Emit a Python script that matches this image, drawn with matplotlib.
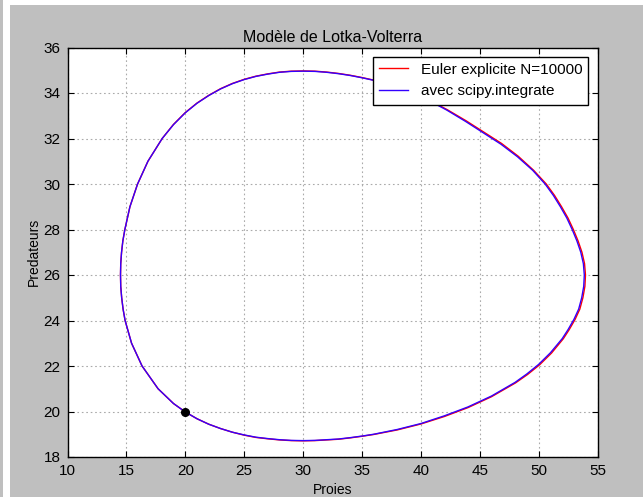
import numpy as np
import matplotlib.pyplot as plt
from matplotlib.patches import Rectangle

plt.rcParams['font.family'] = ['Liberation Sans', 'DejaVu Sans']

# trajectoire (proies, predateurs), depart en (20, 20), sens trigo
proies = [20.0, 21.0, 22.0, 23.0, 24.0, 25.0, 26.0, 27.0, 28.0, 29.0, 30.0, 31.0,
          32.0, 33.0, 34.0, 35.0, 36.0, 38.0, 40.0, 42.0, 44.0, 46.0, 48.0, 49.0,
          50.0, 51.0, 52.0, 52.5, 53.0, 53.4, 53.66, 53.83, 53.88, 53.8, 53.58, 53.25,
          52.85, 52.4, 51.85, 51.25, 50.55, 49.5, 48.2, 46.8, 45.3, 43.8, 42.2, 40.5,
          38.5, 36.5, 35.0, 34.0, 33.0, 32.0, 31.0, 30.0, 29.0, 28.0, 27.0, 26.0,
          25.0, 24.0, 23.0, 22.0, 21.0, 20.0, 19.0, 18.04, 16.83, 15.95, 15.3, 14.87,
          14.7, 14.59, 14.52, 14.5, 14.52, 14.6, 14.72, 14.89, 15.44, 16.33, 17.69, 19.0,
          20.0]
predateurs = [19.98, 19.68, 19.44, 19.25, 19.09, 18.97, 18.87, 18.81, 18.76, 18.73, 18.72, 18.73,
              18.76, 18.79, 18.85, 18.92, 19.0, 19.21, 19.47, 19.81, 20.2, 20.68, 21.28, 21.65,
              22.07, 22.58, 23.2, 23.6, 24.05, 24.5, 25.0, 25.5, 26.0, 26.5, 27.0, 27.5,
              28.0, 28.5, 29.0, 29.5, 30.0, 30.6, 31.2, 31.75, 32.25, 32.75, 33.25, 33.72,
              34.15, 34.5, 34.67, 34.77, 34.85, 34.91, 34.95, 34.96, 34.95, 34.91, 34.83, 34.73,
              34.59, 34.41, 34.18, 33.89, 33.55, 33.13, 32.61, 32.0, 31.0, 30.0, 29.0, 28.0,
              27.5, 27.0, 26.5, 26.0, 25.5, 25.0, 24.5, 24.0, 23.0, 22.0, 21.0, 20.35,
              19.98]

# Euler explicite : legerement a l'exterieur sur la droite
proies_euler = [20.0, 21.0, 22.0, 23.0, 24.0, 25.0, 26.0, 27.0, 28.0, 29.0, 30.0, 31.0,
                32.0, 33.0, 34.0, 35.0, 36.0, 38.0, 40.0, 42.0, 44.0, 46.0, 48.05, 49.07,
                50.08, 51.1, 52.1, 52.6, 53.1, 53.5, 53.76, 53.93, 53.98, 53.9, 53.68, 53.35,
                52.95, 52.5, 51.95, 51.35, 50.65, 49.58, 48.27, 46.86, 45.35, 43.84, 42.23, 40.52,
                38.5, 36.5, 35.0, 34.0, 33.0, 32.0, 31.0, 30.0, 29.0, 28.0, 27.0, 26.0,
                25.0, 24.0, 23.0, 22.0, 21.0, 20.0, 19.0, 18.04, 16.83, 15.95, 15.3, 14.87,
                14.7, 14.59, 14.52, 14.5, 14.52, 14.6, 14.72, 14.89, 15.44, 16.33, 17.69, 19.0,
                20.0]
predateurs_euler = [19.98, 19.68, 19.44, 19.25, 19.09, 18.96, 18.86, 18.8, 18.75, 18.72, 18.71, 18.72,
                    18.75, 18.78, 18.84, 18.91, 18.99, 19.19, 19.45, 19.78, 20.17, 20.65, 21.26, 21.63,
                    22.05, 22.57, 23.2, 23.6, 24.05, 24.5, 25.0, 25.5, 26.0, 26.5, 27.0, 27.5,
                    28.0, 28.5, 29.0, 29.5, 30.0, 30.6, 31.22, 31.78, 32.28, 32.78, 33.27, 33.74,
                    34.16, 34.51, 34.68, 34.78, 34.86, 34.92, 34.96, 34.97, 34.96, 34.92, 34.84, 34.74,
                    34.6, 34.42, 34.19, 33.9, 33.56, 33.14, 32.62, 32.0, 31.0, 30.0, 29.0, 28.0,
                    27.5, 27.0, 26.5, 26.0, 25.5, 25.0, 24.5, 24.0, 23.0, 22.0, 21.0, 20.35,
                    19.98]

depart = (20, 20)

fig = plt.figure(figsize=(6.43, 4.97), dpi=100, facecolor='#bfbfbf')
fig.patches.append(Rectangle((3/643., 0), 7/643., 1, transform=fig.transFigure,
                             facecolor='white', edgecolor='none', zorder=-1))
fig.patches.append(Rectangle((10/643., 1 - 5/497.), 1, 5/497., transform=fig.transFigure,
                             facecolor='white', edgecolor='none', zorder=-1))

ax = fig.add_axes([67.5/643., 40/497., 530/643., 409.5/497.])

ax.plot(proies_euler, predateurs_euler, color='#ff0000', lw=1, label='Euler explicite N=10000')
ax.plot(proies, predateurs, color='#3300ff', lw=1, label='avec scipy.integrate')
ax.plot(depart[0], depart[1], 'o', color='black', ms=5.5)

ax.set_xlim(10, 55)
ax.set_ylim(18, 36)
ax.set_xticks(np.arange(10, 56, 5))
ax.set_yticks(np.arange(18, 37, 2))
ax.tick_params(direction='in', top=True, right=True, labelsize=11, length=4, pad=5)
for s in ax.spines.values():
    s.set_linewidth(1.0)
ax.grid(True, color='#aaaaaa', linestyle=(0, (1.5, 2.5)), linewidth=0.8)

ax.set_title(u'Modèle de Lotka-Volterra', fontsize=11.5, pad=4)
ax.set_xlabel('Proies', fontsize=10, labelpad=4)
ax.set_ylabel('Predateurs', fontsize=10, labelpad=2)

leg = ax.legend(loc='upper right', fontsize=11, fancybox=False, framealpha=1,
                edgecolor='black', handlelength=1.9, borderaxespad=0.6)
leg.get_frame().set_linewidth(1.0)

fig.savefig('out.png', dpi=100, facecolor=fig.get_facecolor())
